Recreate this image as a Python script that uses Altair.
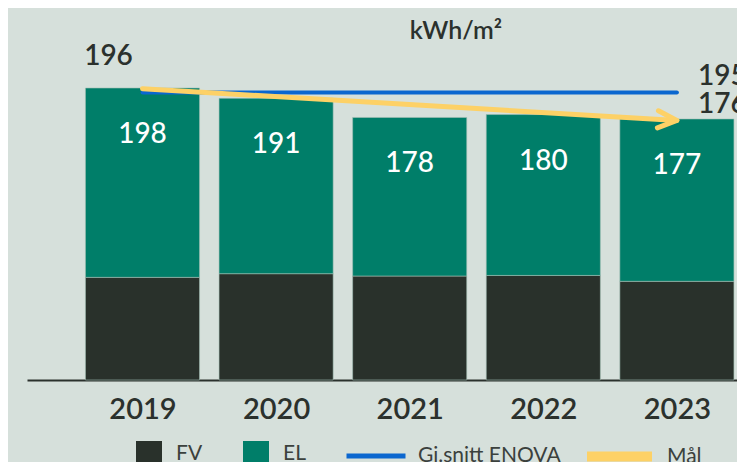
import altair as alt
import pandas as pd

# ---- data ----
years = [2019, 2020, 2021, 2022, 2023]
fv = [69.6, 72.1, 70.5, 70.9, 66.9]
totals = [198, 191, 178, 180, 177]
el = [round(t - f, 1) for t, f in zip(totals, fv)]
segments = ["FV", "EL"]
seg_colors = ["#29312b", "#007e69"]

enova_years = [2019, 2023]
enova_vals = [195, 195]
mal_years = [2019, 2023]
mal_vals = [197.5, 176]

start_label = ["196"]
end_labels = ["195", "176"]
unit_title = ["kWh/m²"]

BG = "#d6e0db"
TXT = "#2b312d"
BLUE = "#0b67cf"
YELLOW = "#fdd166"
FONT = "Lato"

rows = []
for i, yv in enumerate(years):
    rows.append({"year": yv, "seg": segments[0], "val": fv[i], "ord": 0})
    rows.append({"year": yv, "seg": segments[1], "val": el[i], "ord": 1})
bars_df = pd.DataFrame(rows)
tot_df = pd.DataFrame({"year": years, "total": totals})
enova_df = pd.DataFrame({"year": enova_years, "val": enova_vals, "series": ["Gj.snitt ENOVA"] * 2})
mal_df = pd.DataFrame({"year": mal_years, "val": mal_vals, "series": ["Mål"] * 2})
arrow_df = mal_df.tail(1)
start_df = pd.DataFrame({"year": [mal_years[0]], "val": [mal_vals[0]], "t": start_label})
end_df = pd.DataFrame({"year": [enova_years[-1], mal_years[-1]], "val": [enova_vals[-1], mal_vals[-1]], "t": end_labels})
title_df = pd.DataFrame({"t": unit_title})

W = 710
H = 372
LEG_SHIFT = -7
xs = alt.Scale(domain=[2018.1355, 2018.1355 + W / 133.6], nice=False, zero=False)
ys = alt.Scale(domain=[0, 252.25], nice=False, zero=True)

x_axis = alt.Axis(values=years, format="d", labelFontSize=29, labelFontWeight=600,
                  labelColor=TXT, labelFont=FONT, ticks=False, tickSize=0, grid=False,
                  domainColor=TXT, domainWidth=2, labelPadding=15, labelBaseline="top",
                  labelFlush=False, labelOverlap=False, title=None)


def X(field):
    return alt.X(field, scale=xs, axis=x_axis, title=None)


def Y(field):
    return alt.Y(field, scale=ys, axis=None)


bars = alt.Chart(bars_df).transform_stack(
    stack="val", groupby=["year"], as_=["y0", "y1"], sort=[alt.SortField("ord")]
).transform_calculate(
    x0="datum.year - 0.427", x1="datum.year + 0.427"
).mark_bar(stroke="#a3c0b5", strokeWidth=0.6).encode(
    x=X("x0:Q"),
    x2="x1:Q",
    y=Y("y0:Q"),
    y2="y1:Q",
    color=alt.Color("seg:N", scale=alt.Scale(domain=segments, range=seg_colors),
                    legend=alt.Legend(orient="none", legendX=109, legendY=440 + LEG_SHIFT,
                                      direction="horizontal",
                                      title=None, symbolType="square", symbolSize=676,
                                      symbolStrokeWidth=0, labelFontSize=21, labelFont=FONT,
                                      labelColor="#3b413d", labelOffset=14, columnPadding=40,
                                      padding=0)),
)

bar_labels = alt.Chart(tot_df).mark_text(
    color="white", fontSize=28, font=FONT, fontWeight=500, baseline="middle", dy=47
).encode(
    x=X("year:Q"),
    y=Y("total:Q"),
    text=alt.Text("total:Q"),
)

enova = alt.Chart(enova_df).mark_line(strokeWidth=4, strokeCap="round").encode(
    x=X("year:Q"),
    y=Y("val:Q"),
    color=alt.Color("series:N", scale=alt.Scale(domain=["Gj.snitt ENOVA"], range=[BLUE]),
                    legend=alt.Legend(orient="none", legendX=317, legendY=423 + LEG_SHIFT,
                                      direction="horizontal",
                                      title=None, symbolType="stroke", symbolSize=3481,
                                      symbolStrokeWidth=5, labelFontSize=21, labelFont=FONT,
                                      labelColor="#3b413d", labelOffset=10, padding=0)),
)

mal = alt.Chart(mal_df).mark_line(strokeWidth=5, strokeCap="round").encode(
    x=X("year:Q"),
    y=Y("val:Q"),
    color=alt.Color("series:N", scale=alt.Scale(domain=["Mål"], range=[YELLOW]),
                    legend=alt.Legend(orient="none", legendX=555, legendY=418 + LEG_SHIFT,
                                      direction="horizontal",
                                      title=None, symbolType="stroke", symbolSize=4225,
                                      symbolStrokeWidth=10, labelFontSize=21, labelFont=FONT,
                                      labelColor="#3b413d", labelOffset=10, padding=0)),
)

arrow = alt.Chart(arrow_df).mark_point(
    shape="M-1,-0.45L0,0L-1,0.45", size=1444, filled=False, stroke=YELLOW,
    strokeWidth=5, strokeCap="round", strokeJoin="round", angle=3.5, opacity=1
).encode(
    x=X("year:Q"),
    y=Y("val:Q"),
)

start_text = alt.Chart(start_df).mark_text(
    color=TXT, fontSize=28, font=FONT, fontWeight=600, align="center", baseline="middle", dx=-34, dy=-32
).encode(
    x=X("year:Q"),
    y=Y("val:Q"),
    text="t:N",
)

end_text = alt.Chart(end_df).mark_text(
    color=TXT, fontSize=28, font=FONT, fontWeight=600, align="left", baseline="middle", dx=21, dy=-15
).encode(
    x=X("year:Q"),
    y=Y("val:Q"),
    text="t:N",
)

title = alt.Chart(title_df).mark_text(
    color=TXT, fontSize=25, font=FONT, fontWeight=600, align="center", baseline="alphabetic"
).encode(
    x=alt.value(429), y=alt.value(31), text="t:N",
)

chart = alt.layer(
    bars, bar_labels, enova, mal, arrow, start_text, end_text, title
).resolve_scale(color="independent").properties(
    width=W, height=H,
    padding={"left": 19, "top": 0, "right": 0, "bottom": 82},
    autosize=alt.AutoSizeParams(type="none"),
).configure(background=BG, font=FONT).configure_view(strokeWidth=0)

chart.save("out.html", embed_options={"renderer": "svg", "actions": False})
